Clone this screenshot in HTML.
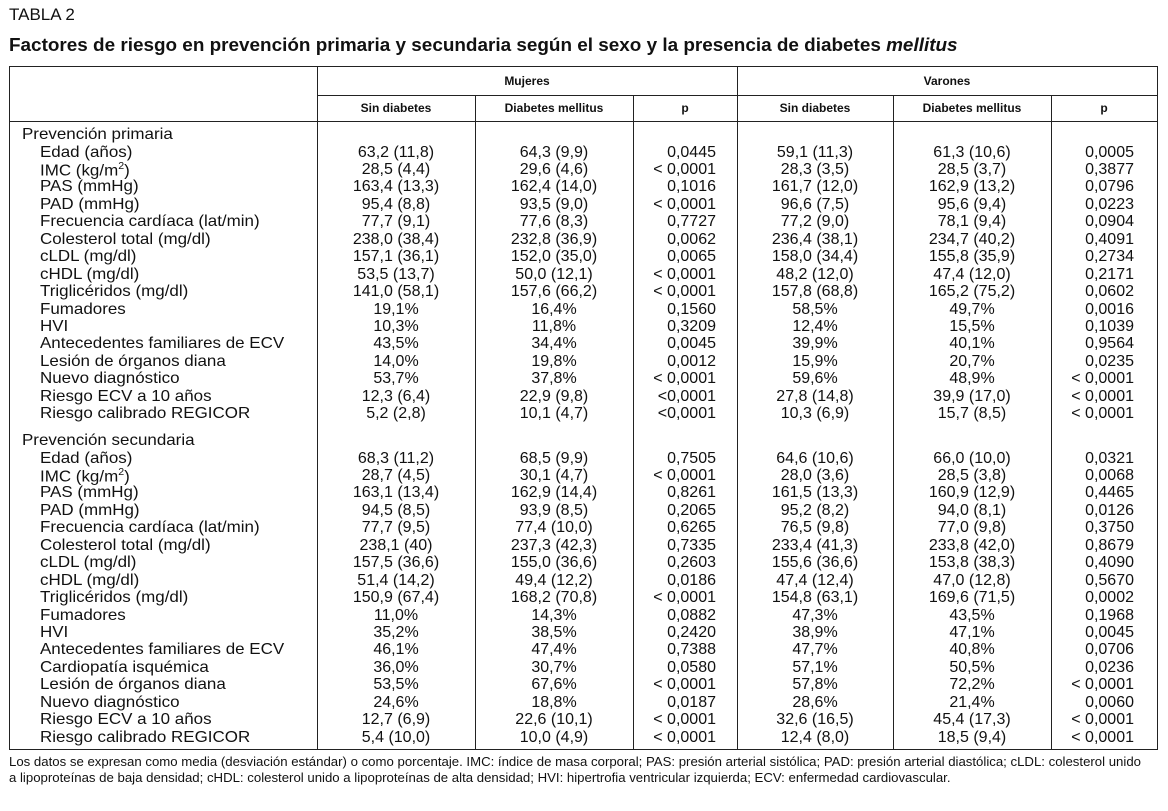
<!DOCTYPE html>
<html><head><meta charset="utf-8">
<style>
body{margin:0;width:1168px;height:811px;background:#fff;font-family:"Liberation Sans",sans-serif;color:#111;position:relative;overflow:hidden}
.a{position:absolute;white-space:nowrap}
.ln{position:absolute;background:#222}
</style></head><body>
<div class="a" style="left:9px;top:5px;font-size:17px">TABLA 2</div>
<div class="a" style="left:9px;top:35px;font-size:18px;font-weight:bold;transform:scaleX(1.05);transform-origin:left">Factores de riesgo en prevención primaria y secundaria según el sexo y la presencia de diabetes <i>mellitus</i></div>
<div id="tbl"></div>
<div class="a" style="left:9px;top:754px;font-size:13.2px;line-height:16px">Los datos se expresan como media (desviación estándar) o como porcentaje. IMC: índice de masa corporal; PAS: presión arterial sistólica; PAD: presión arterial diastólica; cLDL: colesterol unido<br>a lipoproteínas de baja densidad; cHDL: colesterol unido a lipoproteínas de alta densidad; HVI: hipertrofia ventricular izquierda; ECV: enfermedad cardiovascular.</div>
<script>
const prim=[
["Edad (años)","63,2 (11,8)","64,3 (9,9)","0,0445","59,1 (11,3)","61,3 (10,6)","0,0005"],
["IMC (kg/m<sup style='font-size:10px'>2</sup>)","28,5 (4,4)","29,6 (4,6)","< 0,0001","28,3 (3,5)","28,5 (3,7)","0,3877"],
["PAS (mmHg)","163,4 (13,3)","162,4 (14,0)","0,1016","161,7 (12,0)","162,9 (13,2)","0,0796"],
["PAD (mmHg)","95,4 (8,8)","93,5 (9,0)","< 0,0001","96,6 (7,5)","95,6 (9,4)","0,0223"],
["Frecuencia cardíaca (lat/min)","77,7 (9,1)","77,6 (8,3)","0,7727","77,2 (9,0)","78,1 (9,4)","0,0904"],
["Colesterol total (mg/dl)","238,0 (38,4)","232,8 (36,9)","0,0062","236,4 (38,1)","234,7 (40,2)","0,4091"],
["cLDL (mg/dl)","157,1 (36,1)","152,0 (35,0)","0,0065","158,0 (34,4)","155,8 (35,9)","0,2734"],
["cHDL (mg/dl)","53,5 (13,7)","50,0 (12,1)","< 0,0001","48,2 (12,0)","47,4 (12,0)","0,2171"],
["Triglicéridos (mg/dl)","141,0 (58,1)","157,6 (66,2)","< 0,0001","157,8 (68,8)","165,2 (75,2)","0,0602"],
["Fumadores","19,1%","16,4%","0,1560","58,5%","49,7%","0,0016"],
["HVI","10,3%","11,8%","0,3209","12,4%","15,5%","0,1039"],
["Antecedentes familiares de ECV","43,5%","34,4%","0,0045","39,9%","40,1%","0,9564"],
["Lesión de órganos diana","14,0%","19,8%","0,0012","15,9%","20,7%","0,0235"],
["Nuevo diagnóstico","53,7%","37,8%","< 0,0001","59,6%","48,9%","< 0,0001"],
["Riesgo ECV a 10 años","12,3 (6,4)","22,9 (9,8)","<0,0001","27,8 (14,8)","39,9 (17,0)","< 0,0001"],
["Riesgo calibrado REGICOR","5,2 (2,8)","10,1 (4,7)","<0,0001","10,3 (6,9)","15,7 (8,5)","< 0,0001"]];
const sec=[
["Edad (años)","68,3 (11,2)","68,5 (9,9)","0,7505","64,6 (10,6)","66,0 (10,0)","0,0321"],
["IMC (kg/m<sup style='font-size:10px'>2</sup>)","28,7 (4,5)","30,1 (4,7)","< 0,0001","28,0 (3,6)","28,5 (3,8)","0,0068"],
["PAS (mmHg)","163,1 (13,4)","162,9 (14,4)","0,8261","161,5 (13,3)","160,9 (12,9)","0,4465"],
["PAD (mmHg)","94,5 (8,5)","93,9 (8,5)","0,2065","95,2 (8,2)","94,0 (8,1)","0,0126"],
["Frecuencia cardíaca (lat/min)","77,7 (9,5)","77,4 (10,0)","0,6265","76,5 (9,8)","77,0 (9,8)","0,3750"],
["Colesterol total (mg/dl)","238,1 (40)","237,3 (42,3)","0,7335","233,4 (41,3)","233,8 (42,0)","0,8679"],
["cLDL (mg/dl)","157,5 (36,6)","155,0 (36,6)","0,2603","155,6 (36,6)","153,8 (38,3)","0,4090"],
["cHDL (mg/dl)","51,4 (14,2)","49,4 (12,2)","0,0186","47,4 (12,4)","47,0 (12,8)","0,5670"],
["Triglicéridos (mg/dl)","150,9 (67,4)","168,2 (70,8)","< 0,0001","154,8 (63,1)","169,6 (71,5)","0,0002"],
["Fumadores","11,0%","14,3%","0,0882","47,3%","43,5%","0,1968"],
["HVI","35,2%","38,5%","0,2420","38,9%","47,1%","0,0045"],
["Antecedentes familiares de ECV","46,1%","47,4%","0,7388","47,7%","40,8%","0,0706"],
["Cardiopatía isquémica","36,0%","30,7%","0,0580","57,1%","50,5%","0,0236"],
["Lesión de órganos diana","53,5%","67,6%","< 0,0001","57,8%","72,2%","< 0,0001"],
["Nuevo diagnóstico","24,6%","18,8%","0,0187","28,6%","21,4%","0,0060"],
["Riesgo ECV a 10 años","12,7 (6,9)","22,6 (10,1)","< 0,0001","32,6 (16,5)","45,4 (17,3)","< 0,0001"],
["Riesgo calibrado REGICOR","5,4 (10,0)","10,0 (4,9)","< 0,0001","12,4 (8,0)","18,5 (9,4)","< 0,0001"]];
const T=document.getElementById('tbl');
function line(x,y,w,h){const d=document.createElement('div');d.className='ln';d.style.cssText=`left:${x}px;top:${y}px;width:${w}px;height:${h}px`;


T.appendChild(d);}
function txt(s,y,opt){const d=document.createElement('div');d.className='a';d.innerHTML=s;d.style.cssText=`top:${y}px;font-size:16px;`+opt;


T.appendChild(d);return d;}
line(9,66,1149,1);line(9,749,1149,1);line(9,66,1,684);line(1157,66,1,684);
line(317,95,840,1);line(9,121,1149,1);
line(317,66,1,684);line(737,66,1,684);
[475,633,893,1051].forEach(x=>line(x,95,1,655));
txt('Mujeres',74,'left:317px;width:420px;text-align:center;font-size:12px;font-weight:bold');
txt('Varones',74,'left:737px;width:420px;text-align:center;font-size:12px;font-weight:bold');
const cols=[[317,475],[475,633],[633,737],[737,893],[893,1051],[1051,1157]];
const heads=['Sin diabetes','Diabetes mellitus','p','Sin diabetes','Diabetes mellitus','p'];
heads.forEach((h,i)=>{txt(h,101,`left:${cols[i][0]}px;width:${cols[i][1]-cols[i][0]}px;text-align:center;font-size:12px;font-weight:bold`);});
const rights=[440,597,716,851,1006,1134];
function block(title,data,y0){
 txt(title,y0-9,'left:22px;transform:scaleX(1.06);transform-origin:left;');
 data.forEach((r,j)=>{const y=y0+8.5+j*17.45;
  txt(r[0],y,'left:40px;transform:scaleX(1.06);transform-origin:left;');
  for(let i=1;i<7;i++){const c=cols[i-1];
   if(i==3||i==6) txt(r[i],y,`right:${1168-rights[i-1]}px;`);
   else txt(r[i],y,`left:${c[0]}px;width:${c[1]-c[0]}px;text-align:center;`);
  }});
}
block('Prevención primaria',prim,135);
block('Prevención secundaria',sec,441);
</script>
</body></html>
